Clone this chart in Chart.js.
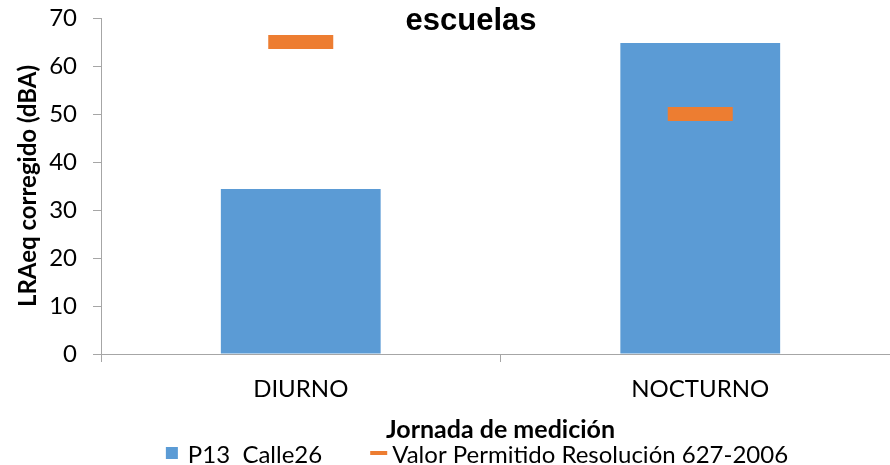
<!DOCTYPE html>
<html>
<head>
<meta charset="utf-8">
<script src="https://cdn.jsdelivr.net/npm/chart.js@4"></script>
<style>
  html, body { margin: 0; padding: 0; background: #fff; overflow: hidden; }
  #wrap { width: 900px; height: 465px; position: relative; }
</style>
</head>
<body>
<div id="wrap"><canvas id="c"></canvas></div>
<script>
const chartTitle = 'escuelas';
const categories = ['DIURNO', 'NOCTURNO'];
const barLabel = 'P13  Calle26';
const barValues = [34.4, 64.8];
const limitLabel = 'Valor Permitido Resolución 627-2006';
const limitValues = [65, 50];
const yTitle = 'LRAeq corregido (dBA)';
const xTitle = 'Jornada de medición';
const yMin = 0, yMax = 70, yStep = 10;

const BLUE = '#5B9BD5';
const ORANGE = '#ED7D31';
const AXIS = '#A6A6A6';
const FONT = 'Lato';

const titlePlugin = {
  id: 'floatTitle',
  afterDraw(chart) {
    const ctx = chart.ctx;
    ctx.save();
    ctx.font = 'bold 31px "Liberation Sans", Arial, sans-serif';
    ctx.fillStyle = '#000';
    ctx.textAlign = 'center';
    ctx.textBaseline = 'alphabetic';
    ctx.fillText(chartTitle, 471, 30);
    ctx.restore();
  }
};

const legendPlugin = {
  id: 'customLegend',
  afterDraw(chart) {
    const ctx = chart.ctx;
    const ds = chart.data.datasets;
    ctx.save();
    ctx.font = '24px ' + FONT;
    ctx.textBaseline = 'middle';
    ctx.textAlign = 'left';
    const cy = 453;
    const markW = [12, 17];
    const gapMarkText = [10, 5];
    const itemGap = 48;
    let total = 0;
    const widths = ds.map((d, i) => {
      const w = markW[i] + gapMarkText[i] + ctx.measureText(d.label).width;
      total += w;
      return w;
    });
    total += itemGap * (ds.length - 1);
    let x = 477 - total / 2;
    ds.forEach((d, i) => {
      if (d.type === 'bar') {
        ctx.fillStyle = d.backgroundColor;
        ctx.fillRect(x, cy - 6, 12, 12);
      } else {
        ctx.fillStyle = d.borderColor;
        ctx.fillRect(x, cy - 2, 17, 4);
      }
      ctx.fillStyle = '#000';
      ctx.fillText(d.label, x + markW[i] + gapMarkText[i], cy + 2);
      x += widths[i] + itemGap;
    });
    ctx.restore();
  }
};

new Chart(document.getElementById('c'), {
  data: {
    labels: categories,
    datasets: [
      {
        type: 'bar',
        label: barLabel,
        data: barValues,
        backgroundColor: BLUE,
        borderWidth: 0,
        barPercentage: 0.4,
        categoryPercentage: 1.0,
        order: 2
      },
      {
        type: 'line',
        label: limitLabel,
        data: limitValues,
        showLine: false,
        borderColor: ORANGE,
        backgroundColor: ORANGE,
        pointStyle: 'line',
        pointRadius: 32.5,
        pointHoverRadius: 32.5,
        pointBorderWidth: 14,
        pointHoverBorderWidth: 14,
        pointBorderColor: ORANGE,
        clip: false,
        order: 1
      }
    ]
  },
  options: {
    responsive: true,
    maintainAspectRatio: false,
    animation: false,
    events: [],
    layout: { autoPadding: false, padding: { left: 0, right: 0, top: 18, bottom: 20 } },
    plugins: {
      legend: { display: false },
      title: { display: false },
      tooltip: { enabled: false }
    },
    scales: {
      x: {
        type: 'category',
        offset: true,
        grid: {
          display: true,
          offset: true,
          drawOnChartArea: false,
          drawTicks: true,
          tickLength: 8,
          color: AXIS,
          lineWidth: 1
        },
        border: { display: true, color: AXIS, width: 1 },
        ticks: {
          color: '#000',
          padding: 13,
          maxRotation: 0,
          font: { family: FONT, size: 24 }
        },
        title: {
          display: true,
          text: xTitle,
          color: '#000',
          padding: { top: 0, bottom: 0 },
          font: { family: FONT, size: 25, weight: 'bold' }
        },
        afterFit(scale) {
          scale.height = 91;
          scale.paddingLeft = 0; scale.paddingRight = 0;
        }
      },
      y: {
        min: yMin,
        max: yMax,
        ticks: {
          stepSize: yStep,
          color: '#000',
          padding: 16,
          font: { family: FONT, size: 24 }
        },
        grid: {
          display: true,
          drawOnChartArea: false,
          drawTicks: true,
          tickLength: 8,
          color: AXIS,
          lineWidth: 1
        },
        border: { display: true, color: AXIS, width: 1 },
        title: {
          display: true,
          text: yTitle,
          color: '#000',
          padding: { top: 14, bottom: 0 },
          font: { family: FONT, size: 24, weight: 'bold' }
        },
        afterFit(scale) {
          scale.width = 101;
          scale.paddingTop = 0; scale.paddingBottom = 0;
        }
      }
    }
  },
  plugins: [titlePlugin, legendPlugin]
});
</script>
</body>
</html>
